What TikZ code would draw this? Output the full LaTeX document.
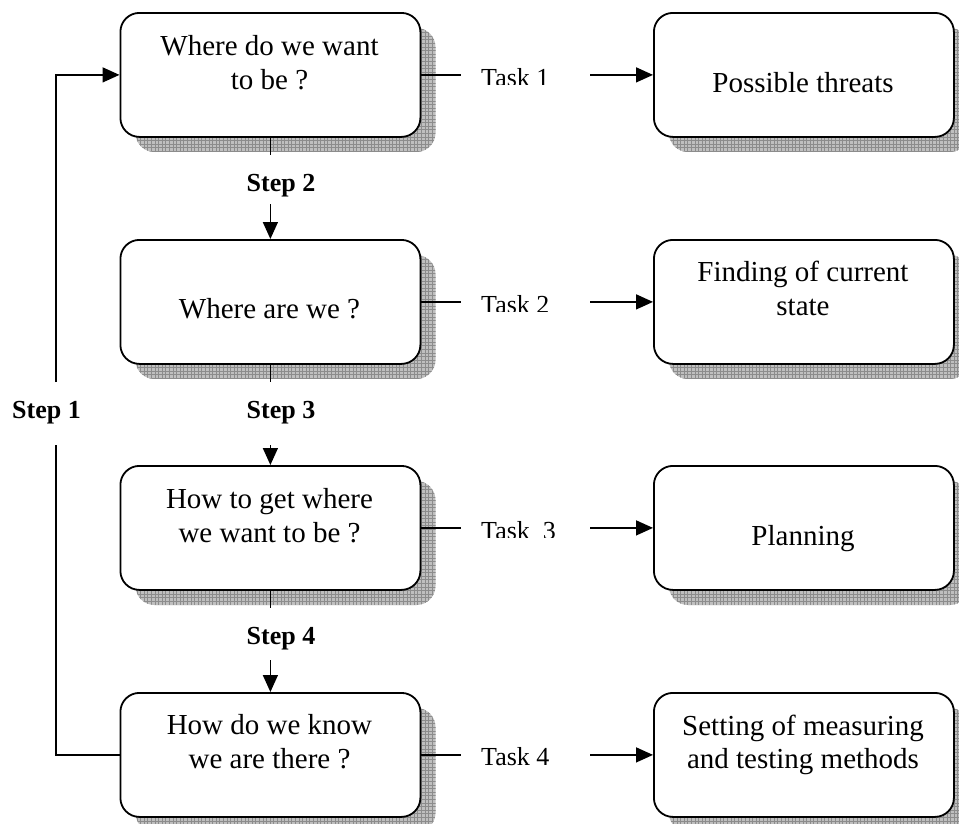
\documentclass[tikz,border=0pt]{standalone}
\usepackage{fontspec}
\setmainfont{Liberation Serif}
\usetikzlibrary{arrows.meta}
\newcommand\shadowat[2]{%
  \begin{scope}
    \clip[rounded corners=19pt] (#1+16,#2+16) rectangle (#1+316,#2+140);
    \fill[shadowfill] (#1+16,#2+16) rectangle (#1+316,#2+140);
    \draw[gridline, step=3.6pt] (#1+16,#2+16) grid (#1+316,#2+140);
  \end{scope}}
\begin{document}
\begin{tikzpicture}[x=1pt,y=-1pt,
  box/.style={draw, line width=1.8pt, fill=white, rounded corners=19pt,
    minimum width=300pt, minimum height=124pt, inner sep=0pt, anchor=north west},
  boxtxt/.style={font=\fontsize{29}{34}\selectfont, anchor=base, inner sep=0pt},
  steplbl/.style={font=\fontsize{26}{30}\selectfont\bfseries, anchor=base, inner sep=0pt},
  tasklbl/.style={font=\fontsize{26}{30}\selectfont, anchor=base west, inner sep=0pt},
  conn/.style={line width=1.5pt},
  arr/.style={conn, -{Triangle[length=17pt,width=15pt]}},
  shadowfill/.style={fill=black!25},
  gridline/.style={draw=black!45, line width=0.35pt},
]
\clip (0,0) rectangle (959,823);
% shadows
\shadowat{119.5}{12}
\shadowat{119.5}{239}
\shadowat{119.5}{465}
\shadowat{119.5}{692}
\shadowat{653}{12}
\shadowat{653}{239}
\shadowat{653}{465}
\shadowat{653}{692}
% left boxes
\node[box] (b1) at (119.5,12) {};
\node[box] (b2) at (119.5,239) {};
\node[box] (b3) at (119.5,465) {};
\node[box] (b4) at (119.5,692) {};
% right boxes
\node[box] (r1) at (653,12) {};
\node[box] (r2) at (653,239) {};
\node[box] (r3) at (653,465) {};
\node[box] (r4) at (653,692) {};
% box texts
\node[boxtxt] (b1t1) at (269.5,55) {Where do we want};
\node[boxtxt] (b1t2) at (269.5,89) {to be ?};
\node[boxtxt] (b2t) at (269.5,318) {Where are we ?};
\node[boxtxt] (b3t1) at (269.5,508) {How to get where};
\node[boxtxt] (b3t2) at (269.5,542) {we want to be ?};
\node[boxtxt] (b4t1) at (269.5,734) {How do we know};
\node[boxtxt] (b4t2) at (269.5,768) {we are there ?};
\node[boxtxt] (r1t) at (803,92) {Possible threats};
\node[boxtxt] (r2t1) at (803,281) {Finding of current};
\node[boxtxt] (r2t2) at (803,315) {state};
\node[boxtxt] (r3t) at (803,545) {Planning};
\node[boxtxt] (r4t1) at (803,735) {Setting of measuring};
\node[boxtxt] (r4t2) at (803,768) {and testing methods};
% step labels
\node[steplbl] (s1) at (46.5,418) {Step 1};
\node[steplbl] (s2) at (281,191) {Step 2};
\node[steplbl] (s3) at (281,418) {Step 3};
\node[steplbl] (s4) at (281,644) {Step 4};
% step connectors
\coordinate (s2a) at (b1.south |- 0,155);
\coordinate (s2b) at (b2.north |- 0,204);
\draw[conn] (b1.south) -- (s2a);
\draw[arr] (s2b) -- (b2.north);
\coordinate (s3a) at (b2.south |- 0,382);
\coordinate (s3b) at (b3.north |- 0,445);
\draw[conn] (b2.south) -- (s3a);
\draw[arr] (s3b) -- (b3.north);
\coordinate (s4a) at (b3.south |- 0,608);
\coordinate (s4b) at (b4.north |- 0,660);
\draw[conn] (b3.south) -- (s4a);
\draw[arr] (s4b) -- (b4.north);
% step 1 loop
\coordinate (s1c) at (56,0 |- b4.west);
\coordinate (s1a) at (56,445);
\coordinate (s1b) at (56,382);
\coordinate (s1d) at (56,0 |- b1.west);
\draw[conn] (b4.west) -- (s1c) -- (s1a);
\draw[arr] (s1b) -- (s1d) -- (b1.west);
% task connectors
\foreach \i in {1,2,3,4}{
  \coordinate (ta\i) at (461,0 |- b\i.east);
  \coordinate (tb\i) at (590,0 |- b\i.east);
  \draw[conn] (b\i.east) -- (ta\i);
  \draw[arr] (tb\i) -- (r\i.west);
}
% task labels (first three appear clipped at the bottom)
\begin{scope}
  \clip (470,40) rectangle (600,84);
  \node[tasklbl] (t1) at (481,86) {Task 1};
\end{scope}
\begin{scope}
  \clip (470,260) rectangle (600,311.5);
  \node[tasklbl] (t2) at (481,313) {Task 2};
\end{scope}
\begin{scope}
  \clip (470,490) rectangle (600,537.5);
  \node[tasklbl] (t3) at (481,539) {Task\ \ 3};
\end{scope}
\node[tasklbl] (t4) at (481,765) {Task 4};
\end{tikzpicture}
\end{document}
